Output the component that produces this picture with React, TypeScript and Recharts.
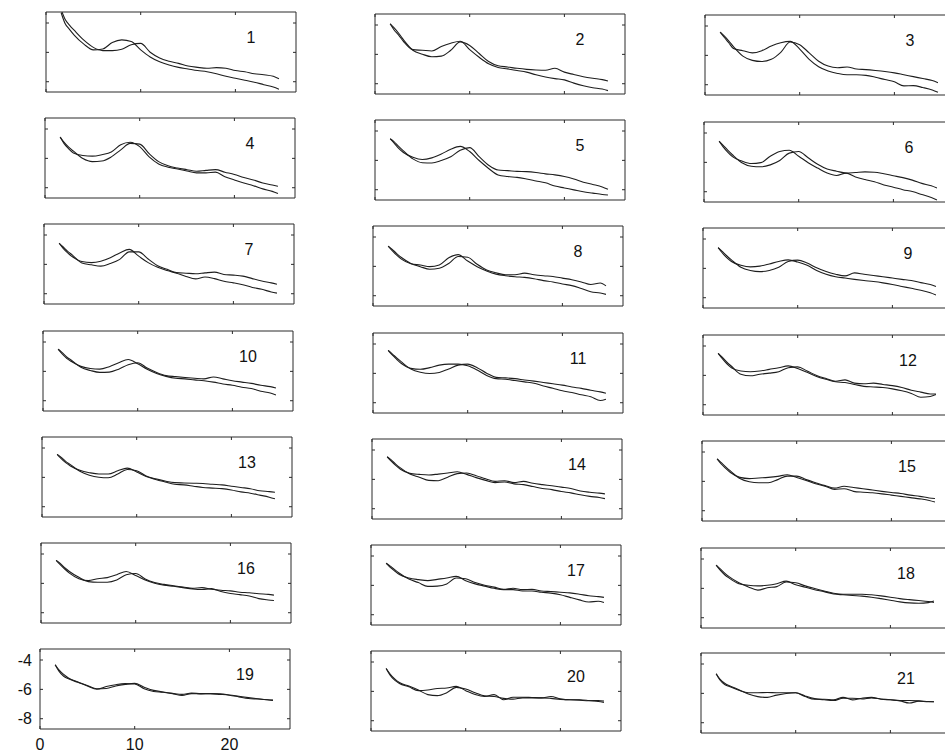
import React from 'react';
import { LineChart, Line, XAxis, YAxis } from 'recharts';

// x positions shared by every curve
const xs = [1.6, 2, 2.5, 3, 4, 5, 6, 7, 8, 9, 10, 11, 12, 13, 14, 15, 16, 17, 18, 19, 20, 21, 22, 23, 24, 24.6];

const p1a = [-3.30, -4.01, -4.45, -4.84, -5.44, -5.83, -5.77, -5.33, -5.15, -5.26, -5.83, -6.31, -6.64, -6.86, -7.02, -7.13, -7.24, -7.32, -7.46, -7.63, -7.76, -7.90, -8.03, -8.20, -8.36, -8.51];
const p1b = [-3.10, -3.72, -4.16, -4.51, -5.17, -5.66, -5.88, -5.88, -5.79, -5.48, -5.39, -5.99, -6.38, -6.60, -6.75, -6.93, -7.02, -7.08, -7.04, -7.08, -7.24, -7.32, -7.46, -7.52, -7.63, -7.79];
const p2a = [-3.92, -4.32, -4.69, -5.11, -5.68, -5.72, -5.77, -5.46, -5.24, -5.11, -5.68, -6.20, -6.64, -6.89, -6.99, -7.10, -7.21, -7.39, -7.54, -7.65, -7.74, -7.96, -8.14, -8.27, -8.36, -8.47];
const p2b = [-3.92, -4.18, -4.56, -5.00, -5.72, -5.99, -6.16, -6.12, -5.72, -5.15, -5.39, -5.94, -6.49, -6.78, -6.86, -6.95, -7.02, -7.06, -7.08, -6.95, -7.21, -7.37, -7.52, -7.63, -7.72, -7.81];
const p3a = [-4.42, -4.75, -5.14, -5.53, -5.68, -5.83, -5.68, -5.36, -5.14, -5.05, -5.57, -6.27, -6.77, -7.06, -7.23, -7.32, -7.32, -7.36, -7.49, -7.65, -7.80, -8.08, -8.06, -8.19, -8.36, -8.52];
const p3b = [-4.42, -4.66, -5.01, -5.40, -6.05, -6.34, -6.42, -6.27, -5.79, -5.09, -5.27, -5.83, -6.40, -6.73, -6.84, -6.79, -6.93, -6.97, -7.03, -7.10, -7.19, -7.32, -7.45, -7.58, -7.71, -7.86];
const p4a = [-4.55, -4.98, -5.35, -5.64, -5.81, -5.85, -5.75, -5.57, -5.07, -4.90, -5.20, -5.90, -6.38, -6.60, -6.73, -6.86, -6.99, -6.99, -6.94, -7.25, -7.47, -7.68, -7.86, -8.08, -8.25, -8.40];
const p4b = [-4.55, -4.90, -5.24, -5.51, -6.01, -6.22, -6.18, -5.90, -5.42, -4.98, -5.03, -5.68, -6.22, -6.51, -6.66, -6.77, -6.88, -6.82, -6.77, -6.94, -7.10, -7.31, -7.47, -7.68, -7.81, -7.90];
const p5a = [-4.53, -4.81, -5.18, -5.46, -5.79, -5.94, -5.83, -5.57, -5.24, -5.05, -5.40, -6.01, -6.55, -6.99, -7.10, -7.16, -7.27, -7.40, -7.53, -7.75, -7.88, -8.01, -8.14, -8.23, -8.32, -8.36];
const p5b = [-4.53, -4.72, -5.05, -5.35, -5.90, -6.16, -6.18, -6.01, -5.75, -5.31, -5.13, -5.75, -6.33, -6.66, -6.70, -6.75, -6.77, -6.83, -6.92, -6.99, -7.10, -7.27, -7.49, -7.64, -7.81, -7.97];
const p6a = [-4.56, -4.93, -5.30, -5.61, -5.91, -6.08, -6.02, -5.58, -5.26, -5.17, -5.58, -6.02, -6.39, -6.73, -6.89, -6.73, -6.99, -7.17, -7.32, -7.54, -7.69, -7.86, -7.99, -8.19, -8.40, -8.56];
const p6b = [-4.56, -4.82, -5.17, -5.48, -6.02, -6.26, -6.30, -6.17, -5.87, -5.37, -5.26, -5.69, -6.13, -6.45, -6.60, -6.73, -6.69, -6.65, -6.67, -6.78, -6.91, -7.04, -7.21, -7.43, -7.60, -7.75];
const p7a = [-4.56, -4.89, -5.22, -5.48, -5.81, -5.88, -5.79, -5.55, -5.22, -4.98, -5.44, -5.88, -6.20, -6.42, -6.60, -6.82, -6.99, -6.86, -6.97, -7.15, -7.26, -7.39, -7.57, -7.70, -7.88, -7.96];
const p7b = [-4.56, -4.80, -5.11, -5.37, -5.90, -6.03, -6.12, -5.94, -5.66, -5.15, -5.15, -5.63, -6.09, -6.34, -6.56, -6.60, -6.64, -6.58, -6.53, -6.69, -6.73, -6.80, -6.97, -7.13, -7.26, -7.35];
const p8a = [-4.62, -4.91, -5.24, -5.51, -5.82, -5.91, -6.02, -5.91, -5.42, -5.20, -5.64, -6.02, -6.31, -6.53, -6.64, -6.71, -6.75, -6.84, -6.97, -7.06, -7.20, -7.31, -7.51, -7.73, -7.82, -7.91];
const p8b = [-4.62, -4.82, -5.13, -5.40, -5.80, -6.02, -6.20, -6.13, -5.80, -5.33, -5.38, -5.86, -6.24, -6.44, -6.57, -6.57, -6.46, -6.57, -6.64, -6.69, -6.80, -6.91, -7.06, -7.24, -7.13, -7.33];
const p9a = [-4.59, -4.92, -5.27, -5.53, -5.79, -5.90, -5.85, -5.70, -5.53, -5.42, -5.57, -5.79, -6.14, -6.40, -6.57, -6.66, -6.75, -6.83, -6.90, -6.99, -7.10, -7.23, -7.36, -7.49, -7.66, -7.81];
const p9b = [-4.59, -4.83, -5.14, -5.42, -5.92, -6.14, -6.22, -6.14, -5.92, -5.53, -5.44, -5.64, -5.96, -6.22, -6.40, -6.51, -6.31, -6.40, -6.49, -6.57, -6.66, -6.75, -6.83, -6.97, -7.10, -7.23];
const p10a = [-4.49, -4.80, -5.11, -5.33, -5.66, -5.81, -5.85, -5.68, -5.41, -5.19, -5.48, -5.85, -6.14, -6.34, -6.47, -6.51, -6.58, -6.64, -6.73, -6.86, -6.95, -7.08, -7.17, -7.35, -7.48, -7.61];
const p10b = [-4.49, -4.71, -5.02, -5.24, -5.72, -5.94, -6.07, -6.05, -5.85, -5.55, -5.41, -5.77, -6.07, -6.29, -6.36, -6.42, -6.47, -6.51, -6.38, -6.51, -6.64, -6.73, -6.82, -6.95, -7.04, -7.13];
const p11a = [-4.43, -4.73, -5.04, -5.33, -5.66, -5.72, -5.61, -5.44, -5.37, -5.37, -5.48, -5.77, -6.14, -6.36, -6.40, -6.49, -6.58, -6.67, -6.86, -7.02, -7.19, -7.30, -7.46, -7.59, -7.85, -7.76];
const p11b = [-4.43, -4.65, -4.95, -5.22, -5.70, -5.92, -6.01, -5.94, -5.70, -5.44, -5.37, -5.61, -5.99, -6.27, -6.31, -6.36, -6.45, -6.53, -6.62, -6.71, -6.80, -6.93, -7.02, -7.15, -7.26, -7.35];
const p12a = [-4.50, -4.83, -5.20, -5.48, -5.70, -5.75, -5.70, -5.59, -5.48, -5.35, -5.53, -5.79, -6.07, -6.27, -6.44, -6.49, -6.62, -6.75, -6.79, -6.83, -6.92, -7.05, -7.23, -7.49, -7.44, -7.31];
const p12b = [-4.50, -4.74, -5.09, -5.38, -5.92, -6.03, -5.92, -5.85, -5.75, -5.48, -5.42, -5.70, -6.01, -6.22, -6.40, -6.31, -6.53, -6.57, -6.53, -6.62, -6.70, -6.83, -7.01, -7.14, -7.27, -7.27];
const p13a = [-4.43, -4.71, -5.00, -5.22, -5.52, -5.68, -5.77, -5.77, -5.55, -5.37, -5.63, -5.94, -6.14, -6.31, -6.47, -6.51, -6.60, -6.69, -6.73, -6.77, -6.86, -6.99, -7.08, -7.21, -7.35, -7.46];
const p13b = [-4.43, -4.62, -4.91, -5.13, -5.59, -5.85, -5.99, -6.03, -5.77, -5.46, -5.55, -5.90, -6.10, -6.25, -6.36, -6.38, -6.40, -6.42, -6.47, -6.51, -6.60, -6.69, -6.77, -6.91, -6.97, -7.02];
const p14a = [-4.46, -4.74, -5.05, -5.31, -5.59, -5.66, -5.70, -5.64, -5.57, -5.48, -5.66, -5.88, -6.07, -6.22, -6.18, -6.31, -6.36, -6.49, -6.62, -6.70, -6.83, -6.92, -7.05, -7.16, -7.23, -7.31];
const p14b = [-4.46, -4.66, -4.96, -5.22, -5.64, -5.85, -6.07, -6.09, -5.85, -5.61, -5.57, -5.75, -5.96, -6.14, -6.09, -6.22, -6.14, -6.27, -6.36, -6.44, -6.53, -6.62, -6.79, -6.88, -6.94, -6.99];
const p15a = [-4.47, -4.80, -5.12, -5.40, -5.73, -5.81, -5.77, -5.73, -5.66, -5.55, -5.73, -5.94, -6.16, -6.33, -6.55, -6.50, -6.68, -6.74, -6.78, -6.85, -6.94, -7.02, -7.11, -7.19, -7.30, -7.41];
const p15b = [-4.47, -4.71, -5.01, -5.29, -5.81, -6.03, -6.09, -6.09, -5.88, -5.64, -5.64, -5.88, -6.09, -6.29, -6.46, -6.33, -6.42, -6.50, -6.59, -6.68, -6.76, -6.83, -6.94, -7.02, -7.13, -7.17];
const p16a = [-4.43, -4.71, -5.02, -5.30, -5.68, -5.81, -5.68, -5.61, -5.41, -5.19, -5.46, -5.77, -5.99, -6.12, -6.20, -6.29, -6.38, -6.42, -6.36, -6.56, -6.69, -6.77, -6.86, -7.04, -7.13, -7.17];
const p16b = [-4.43, -4.62, -4.93, -5.19, -5.59, -5.88, -5.92, -5.92, -5.77, -5.41, -5.33, -5.70, -5.94, -6.07, -6.16, -6.25, -6.34, -6.29, -6.40, -6.47, -6.51, -6.60, -6.64, -6.71, -6.75, -6.80];
const p17a = [-4.49, -4.76, -5.02, -5.26, -5.50, -5.61, -5.68, -5.59, -5.50, -5.39, -5.68, -5.90, -6.05, -6.20, -6.29, -6.29, -6.38, -6.38, -6.47, -6.53, -6.64, -6.82, -6.99, -7.13, -7.08, -7.17];
const p17b = [-4.49, -4.67, -4.93, -5.17, -5.57, -5.81, -6.07, -6.05, -5.90, -5.50, -5.55, -5.81, -5.99, -6.12, -6.27, -6.20, -6.29, -6.27, -6.38, -6.42, -6.47, -6.51, -6.60, -6.71, -6.77, -6.82];
const p18a = [-4.42, -4.74, -5.07, -5.31, -5.68, -5.79, -5.83, -5.79, -5.68, -5.51, -5.75, -5.92, -6.09, -6.22, -6.38, -6.44, -6.49, -6.53, -6.60, -6.70, -6.81, -6.92, -6.99, -7.01, -6.97, -6.86];
const p18b = [-4.42, -4.66, -4.96, -5.22, -5.62, -5.90, -6.12, -5.96, -5.88, -5.57, -5.62, -5.83, -6.01, -6.18, -6.33, -6.40, -6.40, -6.40, -6.44, -6.51, -6.60, -6.70, -6.77, -6.83, -6.90, -6.96];
const p19a = [-4.32, -4.76, -5.11, -5.28, -5.52, -5.77, -5.99, -5.81, -5.68, -5.61, -5.63, -5.96, -6.14, -6.20, -6.29, -6.42, -6.29, -6.31, -6.29, -6.34, -6.40, -6.51, -6.62, -6.66, -6.71, -6.75];
const p19b = [-4.32, -4.67, -4.98, -5.22, -5.50, -5.74, -5.96, -5.94, -5.77, -5.66, -5.59, -5.85, -6.07, -6.18, -6.27, -6.34, -6.25, -6.29, -6.29, -6.31, -6.38, -6.47, -6.56, -6.64, -6.71, -6.73];
const p20a = [-4.44, -4.88, -5.24, -5.46, -5.69, -5.95, -5.91, -5.80, -5.77, -5.66, -5.95, -6.22, -6.35, -6.22, -6.57, -6.40, -6.40, -6.42, -6.44, -6.35, -6.51, -6.57, -6.57, -6.62, -6.69, -6.75];
const p20b = [-4.44, -4.80, -5.15, -5.40, -5.64, -5.91, -6.22, -6.29, -6.09, -5.73, -5.84, -6.09, -6.31, -6.35, -6.48, -6.53, -6.44, -6.44, -6.44, -6.48, -6.55, -6.57, -6.60, -6.64, -6.62, -6.66];
const p21a = [-4.66, -5.09, -5.40, -5.53, -5.79, -5.96, -5.96, -5.94, -5.96, -5.96, -5.96, -6.22, -6.40, -6.40, -6.44, -6.27, -6.44, -6.33, -6.27, -6.40, -6.44, -6.49, -6.49, -6.51, -6.55, -6.57];
const p21b = [-4.66, -5.03, -5.31, -5.48, -5.75, -6.05, -6.22, -6.27, -6.12, -6.01, -5.96, -6.18, -6.36, -6.44, -6.49, -6.33, -6.33, -6.38, -6.31, -6.38, -6.44, -6.51, -6.66, -6.53, -6.57, -6.57];

const panelLabels = ['1', '2', '3', '4', '5', '6', '7', '8', '9', '10', '11', '12', '13', '14', '15', '16', '17', '18', '19', '20', '21'];
const xTicks = [0, 10, 20];
const yTicks = [-8, -6, -4];

const PANELS = [
  [p1a, p1b], [p2a, p2b], [p3a, p3b], [p4a, p4b], [p5a, p5b], [p6a, p6b], [p7a, p7b],
  [p8a, p8b], [p9a, p9b], [p10a, p10b], [p11a, p11b], [p12a, p12b], [p13a, p13b], [p14a, p14b],
  [p15a, p15b], [p16a, p16b], [p17a, p17b], [p18a, p18b], [p19a, p19b], [p20a, p20b], [p21a, p21b],
];

// frame top-left corner of each panel on the page (layout)
const FRAME_POS = [
  [46, 12], [375, 14], [705, 15],
  [45, 118], [375, 120], [704, 122],
  [44, 224], [373, 226], [703, 228],
  [43, 331], [373, 333], [703, 335],
  [42, 437], [372, 439], [702, 441],
  [41, 543], [371, 545], [701, 548],
  [40, 649], [371, 651], [701, 653],
];

const X_DOMAIN: [number, number] = [0, 26.4];
const Y_DOMAIN: [number, number] = [-8.7, -3.25];

const PW = 250;
const PH = 80;
const ML = 40;
const MT = 4;
const MR = 4;
const MB = 30;
const CW = ML + 1 + PW + 1 + MR;
const CH = MT + 1 + PH + 1 + MB;

const FONT = '"Liberation Sans", Arial, Helvetica, sans-serif';
const AXIS_COLOR = '#2a2a2a';
const LINE_COLOR = '#1e1e1e';

const noLabel = () => <g />;

function Panel({ index }: { index: number }) {
  const [a, b] = PANELS[index];
  const data = xs.map((x, i) => ({ x, a: a[i], b: b[i] }));
  const [fl, ft] = FRAME_POS[index];
  const labeled = index === 18;
  const tickFont = { fontFamily: FONT, fontSize: 16, fill: '#111' };
  const tickLine = { stroke: AXIS_COLOR, strokeWidth: 1 };
  return (
    <div style={{ position: 'absolute', left: fl - ML - 1, top: ft - MT - 1, width: CW, height: CH }}>
      <LineChart width={CW} height={CH} data={data} margin={{ top: MT, right: MR, bottom: MB, left: ML }}>
        <XAxis
          xAxisId="b"
          dataKey="x"
          type="number"
          domain={X_DOMAIN}
          ticks={xTicks}
          allowDataOverflow
          orientation="bottom"
          height={1}
          stroke={AXIS_COLOR}
          tickLine={tickLine}
          tickSize={-3}
          tickMargin={13}
          tick={labeled ? tickFont : noLabel}
          interval={0}
        />
        <XAxis
          xAxisId="t"
          dataKey="x"
          type="number"
          domain={X_DOMAIN}
          ticks={xTicks}
          allowDataOverflow
          orientation="top"
          height={1}
          stroke={AXIS_COLOR}
          tickLine={tickLine}
          tickSize={-3}
          tick={noLabel}
          interval={0}
        />
        <YAxis
          yAxisId="l"
          type="number"
          domain={Y_DOMAIN}
          ticks={yTicks}
          allowDataOverflow
          orientation="left"
          width={1}
          stroke={AXIS_COLOR}
          tickLine={tickLine}
          tickSize={-3}
          tickMargin={11}
          tick={labeled ? tickFont : noLabel}
          interval={0}
        />
        <YAxis
          yAxisId="r"
          type="number"
          domain={Y_DOMAIN}
          ticks={yTicks}
          allowDataOverflow
          orientation="right"
          width={1}
          stroke={AXIS_COLOR}
          tickLine={tickLine}
          tickSize={-3}
          tick={noLabel}
          interval={0}
        />
        <Line xAxisId="b" yAxisId="l" dataKey="a" type="monotone" stroke={LINE_COLOR} strokeWidth={1.1} dot={false} isAnimationActive={false} />
        <Line xAxisId="b" yAxisId="l" dataKey="b" type="monotone" stroke={LINE_COLOR} strokeWidth={1.1} dot={false} isAnimationActive={false} />
      </LineChart>
      <div
        style={{
          position: 'absolute',
          left: ML + 1 + 185,
          top: MT + 1 + 17,
          width: 40,
          textAlign: 'center',
          fontFamily: FONT,
          fontSize: 16,
          lineHeight: '18px',
          color: '#111',
        }}
      >
        {panelLabels[index]}
      </div>
    </div>
  );
}

export default function App() {
  return (
    <div style={{ position: 'fixed', left: 0, top: 0, width: 945, height: 755, overflow: 'hidden', background: '#fff' }}>
      {PANELS.map((_, i) => (
        <Panel key={i} index={i} />
      ))}
    </div>
  );
}
